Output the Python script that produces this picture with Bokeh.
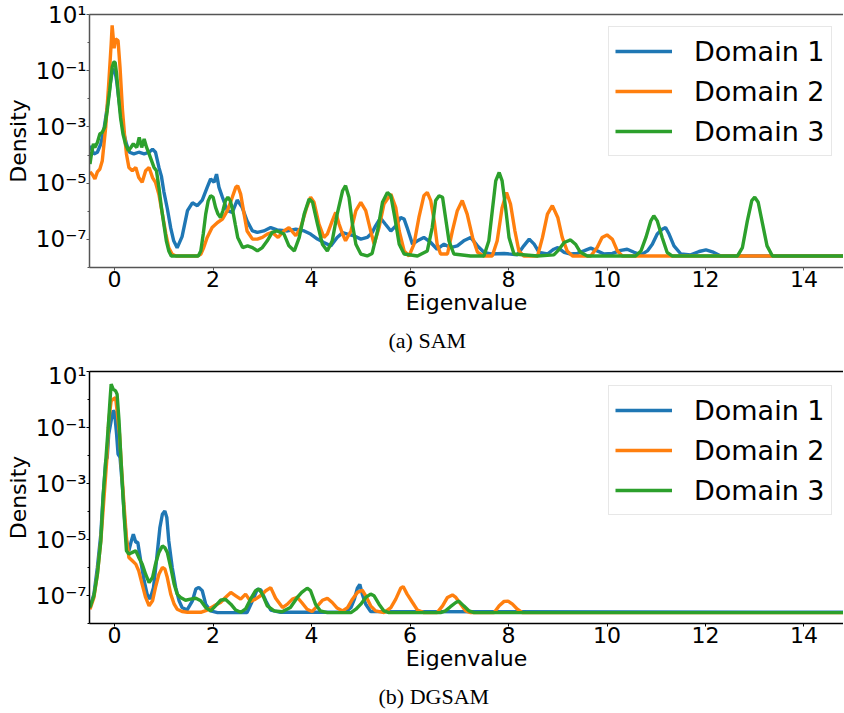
import numpy as np
from bokeh.plotting import figure
from bokeh.models import (Range1d, FixedTicker, CustomJSTickFormatter, Legend,
                          LegendItem, Title, LinearAxis)
from bokeh.layouts import column
from bokeh.embed import file_html
from bokeh.resources import INLINE

DOMAINS = ["Domain 1", "Domain 2", "Domain 3"]
COLORS = ["#1f77b4", "#ff7f0e", "#2ca02c"]
X_TICKS = [0, 2, 4, 6, 8, 10, 12, 14]
Y_TICKS = [1e1, 1e-1, 1e-3, 1e-5, 1e-7]
Y_MINOR = [1e0, 1e-2, 1e-4, 1e-6, 1e-8]
CAPTIONS = ["(a) SAM", "(b) DGSAM"]

# ---------------- SAM (log10 density) ----------------
sam_d1_x = [-0.5, -0.42, -0.35, -0.28, -0.22, -0.15, -0.09, -0.05, 0.0, 0.04, 0.09, 0.14, 0.19, 0.24,
            0.3, 0.39, 0.49, 0.6, 0.7, 0.77, 0.83, 0.9, 0.95, 1.0, 1.07, 1.14, 1.2, 1.27, 1.37, 1.48,
            1.58, 1.68, 1.78, 1.88, 1.95, 2.02, 2.07, 2.12, 2.19, 2.29, 2.39, 2.49, 2.59, 2.69, 2.8,
            2.9, 3.03, 3.17, 3.3, 3.51, 3.68, 3.85, 3.98, 4.12, 4.25, 4.39, 4.52, 4.63, 4.73, 4.86,
            5.0, 5.13, 5.23, 5.3, 5.4, 5.5, 5.61, 5.71, 5.81, 5.88, 5.94, 6.05, 6.15, 6.28, 6.42,
            6.55, 6.69, 6.82, 6.96, 7.09, 7.23, 7.37, 7.5, 7.64, 7.91, 8.18, 8.31, 8.42, 8.52, 8.62,
            8.79, 8.92, 9.0, 9.13, 9.26, 9.4, 9.53, 9.67, 9.8, 9.94, 10.11, 10.28, 10.41, 10.55,
            10.69, 10.82, 10.92, 11.02, 11.12, 11.19, 11.26, 11.36, 11.5, 11.7, 11.87, 12.01, 12.14,
            12.31, 13.0, 15.0]
sam_d1_log = [-3.67, -3.96, -3.9, -3.6, -3.13, -2.3, -1.47, -1.05, -0.94, -1.35, -2.06, -2.78, -3.25,
              -3.6, -3.9, -3.96, -3.9, -3.96, -3.9, -3.79, -3.9, -4.44, -4.75, -5.3, -5.9, -6.6,
              -7.05, -7.3, -6.9, -5.98, -5.7, -5.8, -5.6, -5.15, -4.85, -4.97, -4.68, -5.15, -5.5,
              -5.98, -6.04, -5.6, -5.86, -6.34, -6.7, -6.75, -6.7, -6.58, -6.66, -6.7, -6.64, -6.7,
              -6.81, -6.99, -7.11, -7.23, -6.93, -6.76, -6.81, -6.87, -6.99, -6.93, -6.76, -6.52,
              -6.24, -6.46, -6.7, -6.52, -6.22, -6.28, -6.58, -7.17, -7.05, -6.93, -7.11, -7.35,
              -7.17, -7.29, -7.23, -7.05, -6.93, -7.23, -7.46, -7.52, -7.5, -7.55, -7.23, -6.99,
              -7.17, -7.46, -7.52, -7.35, -7.29, -7.46, -7.52, -7.5, -7.41, -7.31, -7.41, -7.52,
              -7.5, -7.39, -7.35, -7.46, -7.55, -7.41, -7.17, -6.81, -6.64, -6.58, -6.81, -7.23,
              -7.52, -7.55, -7.43, -7.37, -7.44, -7.59, -7.59, -7.59]

sam_d2_x = [-0.5, -0.45, -0.4, -0.35, -0.3, -0.25, -0.18, -0.12, -0.07, -0.05, -0.01, 0.02, 0.07, 0.11,
            0.16, 0.2, 0.24, 0.29, 0.36, 0.43, 0.49, 0.56, 0.63, 0.7, 0.77, 0.83, 0.9, 0.97, 1.04,
            1.1, 1.17, 1.25, 1.68, 1.75, 1.81, 1.88, 1.98, 2.09, 2.19, 2.29, 2.39, 2.46, 2.5, 2.56,
            2.63, 2.69, 2.8, 2.9, 3.0, 3.1, 3.2, 3.32, 3.44, 3.54, 3.68, 3.78, 3.9, 3.98, 4.05, 4.15,
            4.25, 4.32, 4.42, 4.49, 4.56, 4.63, 4.69, 4.8, 4.9, 5.0, 5.1, 5.2, 5.27, 5.37, 5.47,
            5.61, 5.71, 5.78, 5.88, 5.98, 6.08, 6.18, 6.28, 6.35, 6.42, 6.49, 6.55, 6.62, 6.76,
            6.86, 6.96, 7.06, 7.16, 7.27, 7.37, 7.5, 7.67, 7.77, 7.87, 7.96, 8.04, 8.13, 8.21,
            8.31, 8.59, 8.69, 8.79, 8.89, 9.0, 9.09, 9.19, 9.3, 9.67, 9.8, 9.9, 10.0, 10.11, 10.21,
            10.31, 15.0]
sam_d2_log = [-4.6, -4.7, -4.85, -4.6, -4.5, -4.2, -3.0, -1.47, -0.05, 0.61, -0.2, 0.13, 0.07, -0.88,
              -2.4, -3.25, -3.96, -4.44, -4.56, -4.44, -4.8, -4.97, -4.56, -4.44, -4.8, -4.97, -5.4,
              -6.1, -6.8, -7.3, -7.53, -7.59, -7.59, -7.53, -7.29, -6.93, -6.58, -6.4, -6.28, -5.98,
              -5.5, -5.15, -5.09, -5.39, -6.1, -6.7, -6.99, -6.99, -6.93, -6.81, -6.75, -6.93, -6.7,
              -6.58, -6.87, -6.58, -5.87, -5.5, -5.68, -6.46, -6.93, -6.81, -6.34, -6.04, -6.46,
              -6.81, -7.05, -6.7, -5.98, -5.68, -5.98, -6.7, -7.17, -6.58, -5.74, -5.39, -5.87,
              -6.7, -7.41, -7.59, -7.17, -6.22, -5.45, -5.33, -5.62, -6.34, -7.17, -7.52, -7.52,
              -6.7, -5.98, -5.62, -6.1, -6.93, -7.46, -7.59, -7.59, -7.05, -5.87, -5.33, -5.74,
              -6.7, -7.41, -7.59, -7.59, -6.93, -6.1, -5.8, -6.22, -6.93, -7.41, -7.59, -7.59,
              -7.29, -6.93, -6.84, -7.0, -7.41, -7.59, -7.59]

sam_d3_x = [-0.5, -0.47, -0.43, -0.4, -0.35, -0.3, -0.25, -0.2, -0.15, -0.1, -0.05, -0.02, 0.01, 0.04,
            0.08, 0.12, 0.17, 0.22, 0.28, 0.33, 0.38, 0.45, 0.5, 0.55, 0.6, 0.65, 0.7, 0.75, 0.8,
            0.85, 0.9, 0.95, 1.0, 1.05, 1.1, 1.15, 1.7, 1.75, 1.8, 1.85, 1.9, 1.95, 2.0, 2.05, 2.1,
            2.15, 2.2, 2.25, 2.3, 2.35, 2.4, 2.45, 2.5, 2.6, 2.7, 2.8, 2.9, 3.0, 3.1, 3.2, 3.3, 3.44,
            3.54, 3.65, 3.75, 3.85, 3.95, 4.02, 4.12, 4.22, 4.32, 4.42, 4.52, 4.63, 4.69, 4.76,
            4.83, 4.9, 5.0, 5.13, 5.23, 5.34, 5.44, 5.54, 5.61, 5.69, 5.78, 5.88, 6.15, 6.35, 6.45,
            6.52, 6.59, 6.66, 6.72, 6.79, 6.89, 7.23, 7.5, 7.6, 7.67, 7.74, 7.81, 7.87, 7.94, 8.01,
            8.11, 8.59, 8.92, 9.0, 9.13, 9.26, 9.36, 9.46, 9.6, 10.58, 10.69, 10.79, 10.89, 10.95,
            11.02, 11.12, 11.22, 11.32, 12.65, 12.75, 12.85, 12.94, 13.0, 13.07, 13.16, 13.25,
            13.36, 15.0]
sam_d3_log = [-4.32, -3.96, -3.6, -3.73, -3.55, -3.25, -3.19, -3.0, -2.42, -1.7, -0.88, -0.7, -0.7,
              -1.11, -1.95, -2.66, -3.25, -3.6, -3.85, -3.73, -3.6, -3.73, -3.37, -3.73, -3.43,
              -3.73, -3.96, -4.2, -4.44, -4.56, -5.15, -5.86, -6.46, -7.05, -7.41, -7.59, -7.59,
              -7.41, -6.81, -6.1, -5.63, -5.45, -5.5, -5.86, -6.1, -6.22, -5.98, -5.63, -5.5, -5.63,
              -5.98, -6.46, -6.93, -7.29, -7.23, -7.29, -7.41, -7.29, -7.05, -6.75, -6.7, -6.81,
              -7.23, -7.41, -6.93, -6.1, -5.56, -5.68, -6.46, -7.17, -7.41, -7.05, -6.1, -5.27,
              -5.09, -5.5, -6.46, -7.17, -7.52, -7.59, -7.5, -6.7, -5.68, -5.33, -5.45, -6.22, -7.17,
              -7.52, -7.59, -7.41, -6.58, -5.62, -5.45, -5.5, -6.22, -7.05, -7.52, -7.59, -7.59,
              -7.05, -5.98, -4.92, -4.62, -4.92, -5.87, -6.93, -7.52, -7.59, -7.55, -7.41, -7.11,
              -7.02, -7.17, -7.46, -7.59, -7.59, -7.41, -6.93, -6.34, -6.16, -6.34, -6.93, -7.46,
              -7.59, -7.59, -7.29, -6.34, -5.62, -5.5, -5.68, -6.46, -7.23, -7.59, -7.59]

# ---------------- DGSAM (log10 density) ----------------
dg_d1_x = [-0.5, -0.42, -0.35, -0.28, -0.24, -0.18, -0.15, -0.12, -0.07, -0.03, 0.0, 0.04, 0.07, 0.11,
           0.16, 0.2, 0.24, 0.29, 0.34, 0.38, 0.43, 0.47, 0.53, 0.6, 0.66, 0.72, 0.79, 0.85, 0.92,
           0.97, 1.02, 1.06, 1.1, 1.17, 1.24, 1.31, 1.37, 1.47, 1.58, 1.65, 1.71, 1.78, 1.85, 1.95,
           2.09, 2.69, 2.8, 2.9, 2.97, 3.07, 3.17, 3.37, 4.69, 4.8, 4.87, 4.93, 4.98, 5.03, 5.1,
           5.2, 15.0]
dg_d1_log = [-7.43, -6.95, -6.0, -4.81, -3.62, -2.19, -2.07, -1.24, -0.76, -0.4, -0.46, -1.24, -1.95,
             -2.07, -3.14, -4.21, -5.05, -5.4, -5.05, -4.81, -5.1, -5.1, -5.76, -6.48, -6.95, -7.13,
             -6.71, -5.76, -4.57, -4.1, -3.98, -4.21, -5.05, -6.0, -6.71, -7.19, -7.43, -7.52, -7.19,
             -6.77, -6.71, -6.83, -7.31, -7.55, -7.61, -7.61, -7.19, -6.77, -6.8, -7.19, -7.52,
             -7.6, -7.6, -7.43, -7.13, -6.74, -6.6, -6.95, -7.31, -7.57, -7.6]

dg_d2_x = [-0.5, -0.42, -0.35, -0.28, -0.22, -0.16, -0.12, -0.07, -0.03, 0.02, 0.05, 0.1, 0.14, 0.19,
           0.24, 0.29, 0.36, 0.43, 0.49, 0.56, 0.63, 0.7, 0.77, 0.83, 0.9, 0.97, 1.02, 1.07, 1.14,
           1.21, 1.27, 1.37, 1.48, 1.75, 1.88, 2.02, 2.15, 2.25, 2.36, 2.46, 2.56, 2.66, 2.76, 2.86,
           2.97, 3.07, 3.17, 3.27, 3.41, 3.51, 3.61, 3.71, 3.8, 3.91, 4.01, 4.12, 4.22, 4.32, 4.42,
           4.52, 4.63, 4.73, 4.83, 4.93, 5.03, 5.1, 5.2, 5.3, 5.47, 5.61, 5.71, 5.81, 5.86, 5.94,
           6.05, 6.15, 6.28, 6.55, 6.66, 6.76, 6.86, 6.93, 7.03, 7.13, 7.23, 7.71, 7.81, 7.91,
           7.99, 8.08, 8.18, 8.28, 15.0]
dg_d2_log = [-7.49, -7.07, -6.24, -5.05, -3.62, -2.19, -0.76, -0.05, 0.01, 0.07, -0.4, -1.24, -2.43,
             -3.74, -4.93, -5.64, -5.76, -5.88, -6.12, -6.6, -7.07, -7.37, -7.19, -6.71, -6.24, -6.0,
             -6.05, -6.36, -6.95, -7.31, -7.49, -7.57, -7.6, -7.6, -7.52, -7.37, -7.25, -7.07, -6.89,
             -7.01, -7.13, -6.95, -7.21, -7.13, -7.0, -6.83, -6.72, -7.1, -7.43, -7.31, -7.13, -7.07,
             -7.25, -7.49, -7.57, -7.37, -7.17, -7.1, -7.25, -7.45, -7.55, -7.43, -7.13, -6.89,
             -6.81, -7.01, -7.37, -7.55, -7.61, -7.43, -7.13, -6.74, -6.68, -6.95, -7.25, -7.52,
             -7.61, -7.61, -7.37, -7.07, -6.98, -7.07, -7.31, -7.55, -7.61, -7.61, -7.37, -7.21,
             -7.2, -7.31, -7.49, -7.61, -7.61]

dg_d3_x = [-0.5, -0.42, -0.35, -0.28, -0.23, -0.18, -0.13, -0.09, -0.07, -0.03, 0.02, 0.05, 0.09, 0.12,
           0.16, 0.2, 0.24, 0.29, 0.36, 0.43, 0.49, 0.56, 0.63, 0.7, 0.77, 0.83, 0.9, 0.97, 1.02,
           1.07, 1.14, 1.21, 1.27, 1.34, 1.44, 1.54, 1.65, 1.75, 1.85, 1.95, 2.05, 2.15, 2.25, 2.36,
           2.46, 2.56, 2.66, 2.76, 2.86, 2.93, 3.0, 3.1, 3.24, 3.4, 3.57, 3.71, 3.8, 3.91, 3.98,
           4.08, 4.18, 4.32, 4.8, 4.9, 5.0, 5.1, 5.2, 5.27, 5.37, 5.47, 5.57, 6.62, 6.72, 6.82,
           6.93, 6.99, 7.09, 7.2, 7.3, 15.0]
dg_d3_log = [-7.43, -7.01, -6.24, -5.05, -3.38, -2.19, -1.0, 0.07, 0.55, 0.37, 0.31, 0.19, -0.76,
             -1.83, -3.14, -4.33, -5.4, -5.52, -5.46, -5.4, -5.64, -5.88, -6.24, -6.54, -6.36, -5.88,
             -5.46, -5.23, -5.29, -5.46, -6.0, -6.6, -6.95, -7.07, -7.17, -7.13, -7.1, -7.19, -7.43,
             -7.55, -7.37, -7.17, -7.13, -7.31, -7.52, -7.6, -7.48, -7.13, -6.83, -6.77, -6.95,
             -7.37, -7.55, -7.58, -7.43, -7.07, -6.89, -6.74, -6.83, -7.31, -7.55, -7.61, -7.61,
             -7.49, -7.31, -7.07, -6.95, -7.01, -7.31, -7.55, -7.61, -7.61, -7.55, -7.4, -7.25,
             -7.2, -7.37, -7.55, -7.61, -7.61]

SAM = [(sam_d1_x, sam_d1_log), (sam_d2_x, sam_d2_log), (sam_d3_x, sam_d3_log)]
DGSAM = [(dg_d1_x, dg_d1_log), (dg_d2_x, dg_d2_log), (dg_d3_x, dg_d3_log)]

SUP = CustomJSTickFormatter(code="""
const e = Math.round(Math.log10(tick));
const m = {'-':'\u207b','0':'\u2070','1':'\u00b9','2':'\u00b2','3':'\u00b3','4':'\u2074',
           '5':'\u2075','6':'\u2076','7':'\u2077','8':'\u2078','9':'\u2079'};
return '10' + String(e).split('').map(c => m[c]).join('');
""")

FRAME_W = 754


def make_panel(series, caption, border_top, frame_h, border_bottom, legend_y, cap_off, spine):
    p = figure(frame_width=FRAME_W, frame_height=frame_h,
               x_range=Range1d(-0.51, -0.51 + FRAME_W / 49.24), y_range=Range1d(1e-8, 1e1),
               y_axis_type="log", output_backend="svg", toolbar_location=None,
               min_border_left=89, min_border_right=0, min_border_top=border_top,
               min_border_bottom=border_bottom)
    p.outline_line_color = None
    p.grid.visible = False
    p.background_fill_color = "white"
    p.border_fill_color = "white"

    rs = []
    for (xs, lg), c in zip(series, COLORS):
        rs.append(p.line(xs, (10.0 ** np.array(lg)).tolist(), line_color=c, line_width=3.4))

    xa = p.xaxis[0]
    xa.ticker = FixedTicker(ticks=X_TICKS)
    xa.axis_label = "Eigenvalue"
    xa.axis_label_text_font = "DejaVu Sans"
    xa.axis_label_text_font_size = "22px"
    xa.axis_label_text_font_style = "normal"
    xa.axis_label_text_color = "black"
    xa.axis_label_standoff = 0
    xa.major_label_text_font = "DejaVu Sans"
    xa.major_label_text_font_size = "22px"
    xa.major_label_text_color = "black"
    xa.major_label_standoff = 0
    xa.major_tick_out = 3
    xa.major_tick_in = 0
    xa.minor_tick_line_color = None
    xa.axis_line_color = spine
    xa.axis_line_width = 1.5
    xa.major_tick_line_color = spine

    ya = p.yaxis[0]
    ya.ticker = FixedTicker(ticks=Y_TICKS, minor_ticks=Y_MINOR)
    ya.formatter = SUP
    ya.axis_label = "Density"
    ya.axis_label_text_font = "DejaVu Sans"
    ya.axis_label_text_font_size = "22px"
    ya.axis_label_text_font_style = "normal"
    ya.axis_label_text_color = "black"
    ya.axis_label_standoff = 2
    ya.major_label_text_font = "DejaVu Sans"
    ya.major_label_text_font_size = "23px"
    ya.major_label_text_color = "black"
    ya.major_label_standoff = 0
    ya.major_tick_out = 3
    ya.major_tick_in = 0
    ya.minor_tick_out = 2
    ya.minor_tick_in = 0
    ya.axis_line_color = spine
    ya.axis_line_width = 1.5
    ya.major_tick_line_color = spine
    ya.minor_tick_line_color = spine

    top = LinearAxis(ticker=FixedTicker(ticks=[]), major_label_text_font_size="0px",
                     major_label_standoff=0, major_tick_out=0, major_tick_in=0,
                     minor_tick_out=0, minor_tick_in=0,
                     axis_line_color=spine, axis_line_width=1.5)
    p.add_layout(top, "above")

    legend = Legend(items=[LegendItem(label=d, renderers=[r]) for d, r in zip(DOMAINS, rs)],
                    location=(519, legend_y), glyph_width=57, glyph_height=36,
                    label_height=36, label_standoff=22, spacing=4, padding=6, margin=0,
                    label_text_font="DejaVu Sans", label_text_font_size="27px",
                    label_text_color="black",
                    border_line_color="#d0d0d0", border_line_width=1,
                    background_fill_alpha=0.85)
    p.add_layout(legend)

    p.add_layout(Title(text=caption, align="left", offset=cap_off, standoff=16,
                       text_font="Liberation Serif", text_font_size="22px",
                       text_font_style="normal", text_color="black"), "below")
    return p


p1 = make_panel(SAM, CAPTIONS[0], 14, 253, 95, 111, 299, "#555555")
p2 = make_panel(DGSAM, CAPTIONS[1], 9, 252, 89, 108, 289, "black")

layout = column(p1, p2, spacing=0)
open("out.html", "w").write(file_html(layout, INLINE))
